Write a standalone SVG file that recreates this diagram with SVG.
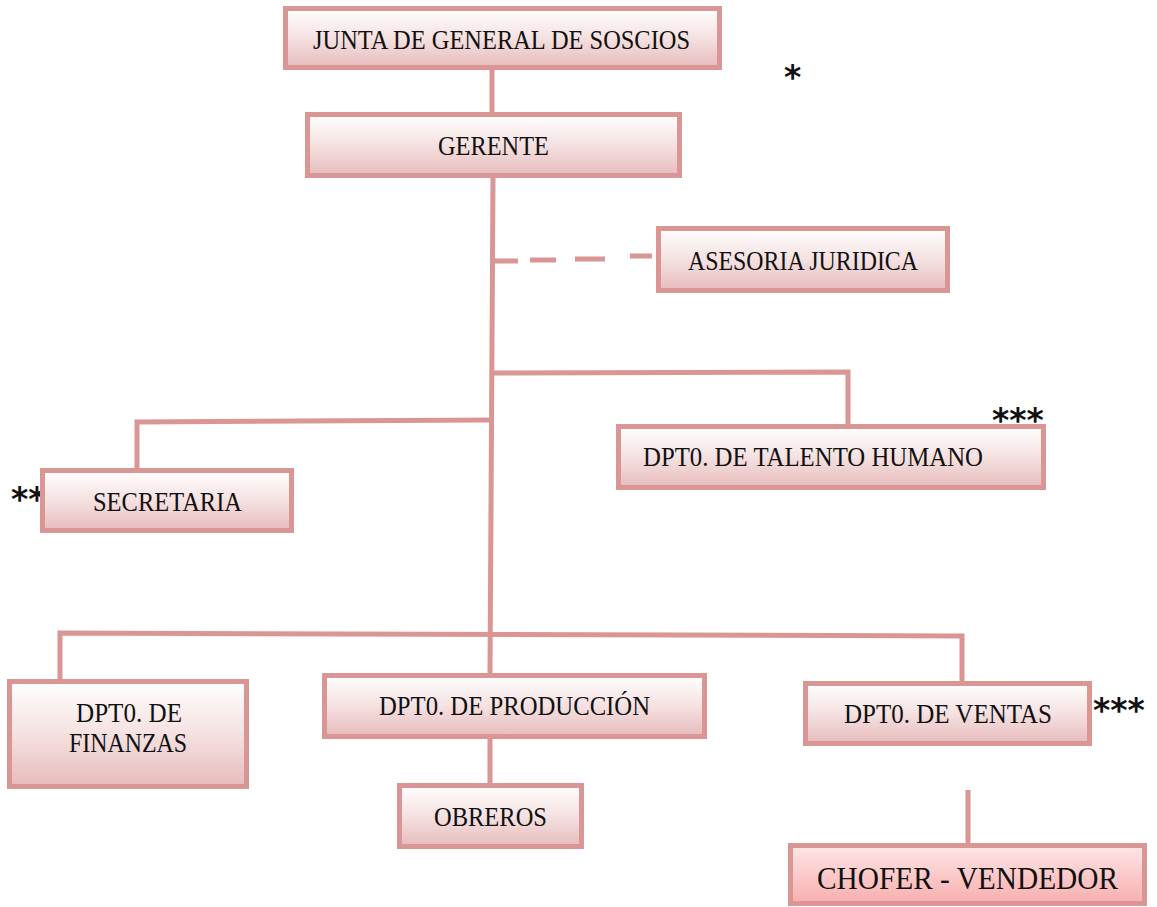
<svg xmlns="http://www.w3.org/2000/svg" width="1157" height="907" viewBox="0 0 1157 907">
<defs>
<linearGradient id="g" x1="0" y1="0" x2="0" y2="1">
<stop offset="0" stop-color="#FFFFFF"/><stop offset="0.5" stop-color="#F5E1E1"/><stop offset="1" stop-color="#E7BBBB"/>
</linearGradient>
<linearGradient id="g2" x1="0" y1="0" x2="0" y2="1">
<stop offset="0" stop-color="#FFE6E6"/><stop offset="1" stop-color="#F8AEAE"/>
</linearGradient>
<style>
.b{fill:url(#g);stroke:#DA9595;stroke-width:5}
.b2{fill:url(#g2);stroke:#DA9595;stroke-width:5}
.t{font-family:"Liberation Serif","DejaVu Serif",serif;font-size:27px;fill:#111;text-anchor:start}
.c{fill:none;stroke:#DA9595;stroke-width:5}
.s{font-family:"DejaVu Sans","Liberation Sans",sans-serif;font-size:33px;fill:#111;font-weight:bold}
</style>
</defs>
<g id="connectors">
<line class="c" x1="492" y1="70" x2="492" y2="112"/>
<line class="c" x1="493" y1="178" x2="490" y2="673"/>
<path class="c" d="M492 261 L518 261 M530 260 L556 260 M575 259 L605 259"/>
<line class="c" x1="630" y1="256" x2="652" y2="256"/>
<polyline class="c" points="492,373 848,372 848,424"/>
<polyline class="c" points="490,420 137,422 137,468"/>
<polyline class="c" points="60,679 60,633 962,636 962,681"/>
<line class="c" x1="490" y1="739" x2="490" y2="783"/>
<line class="c" x1="968" y1="790" x2="968" y2="843"/>
</g>
<g id="stars">
<text class="s" x="784" y="89">*</text>
<text class="s" x="992" y="432">***</text>
<text class="s" x="1093" y="722">***</text>
<text class="s" x="11" y="511">**</text>
</g>
<g id="junta"><rect class="b" x="285.5" y="8.5" width="434" height="59"/>
<text class="t" x="313" y="49" textLength="377" lengthAdjust="spacingAndGlyphs">JUNTA DE GENERAL DE SOSCIOS</text></g>
<g id="gerente"><rect class="b" x="307.5" y="114.5" width="372" height="61"/>
<text class="t" x="438" y="155" textLength="111" lengthAdjust="spacingAndGlyphs">GERENTE</text></g>
<g id="asesoria"><rect class="b" x="658.5" y="228.5" width="289" height="62"/>
<text class="t" x="688" y="270" textLength="230" lengthAdjust="spacingAndGlyphs">ASESORIA JURIDICA</text></g>
<g id="talento"><rect class="b" x="618.5" y="426.5" width="425" height="61"/>
<text class="t" x="643" y="466" textLength="340" lengthAdjust="spacingAndGlyphs">DPT0. DE TALENTO HUMANO</text></g>
<g id="secretaria"><rect class="b" x="42.5" y="470.5" width="249" height="60"/>
<text class="t" x="93" y="511" textLength="149" lengthAdjust="spacingAndGlyphs">SECRETARIA</text></g>
<g id="finanzas"><rect class="b" x="9.5" y="681.5" width="237" height="105"/>
<text class="t" x="76" y="722" textLength="106" lengthAdjust="spacingAndGlyphs">DPT0. DE</text>
<text class="t" x="69" y="752" textLength="118" lengthAdjust="spacingAndGlyphs">FINANZAS</text></g>
<g id="produccion"><rect class="b" x="324.5" y="675.5" width="380" height="61"/>
<text class="t" x="379" y="715" textLength="271" lengthAdjust="spacingAndGlyphs">DPT0. DE PRODUCCIÓN</text></g>
<g id="obreros"><rect class="b" x="399.5" y="785.5" width="182" height="61"/>
<text class="t" x="434" y="826" textLength="113" lengthAdjust="spacingAndGlyphs">OBREROS</text></g>
<g id="ventas"><rect class="b" x="805.5" y="683.5" width="284" height="60"/>
<text class="t" x="844" y="723" textLength="208" lengthAdjust="spacingAndGlyphs">DPT0. DE VENTAS</text></g>
<g id="chofer"><rect class="b2" x="790.5" y="845.5" width="354" height="58"/>
<text class="t" x="817" y="889" style="font-size:32px" textLength="301" lengthAdjust="spacingAndGlyphs">CHOFER - VENDEDOR</text></g>
</svg>
